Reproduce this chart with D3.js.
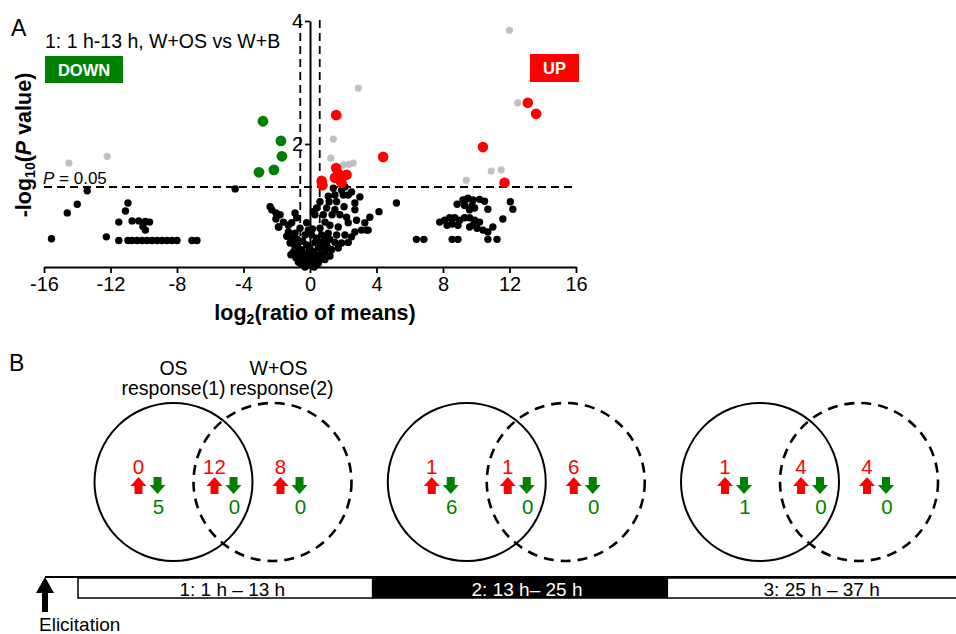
<!DOCTYPE html>
<html><head><meta charset="utf-8">
<script src="https://cdn.jsdelivr.net/npm/d3@7"></script>
<style>
body{margin:0;background:#fff}
svg{display:block}
text{font-family:"Liberation Sans",Arial,Helvetica,sans-serif;fill:#000}
</style>
</head><body>
<svg id="c" width="956" height="634"></svg>
<script>
// ---------- Panel A data ----------
const xTicks = [-16,-12,-8,-4,0,4,8,12,16];
const yTicks = [2,4];
const foldCut = [-0.585, 0.585];
const pCut = 0.05;
const panelTitle = "1: 1 h-13 h, W+OS vs W+B";

const downPoints = [[-2.83,2.37],[-1.75,2.05],[-1.69,1.80],[-3.07,1.54],[-2.17,1.58]];
const upPoints = [[1.57,2.47],[4.4,1.79],[1.57,1.61],[0.7,1.40],[0.75,1.33],[1.5,1.45],[1.8,1.42],[2.2,1.5],[1.9,1.37],[1.7,1.52],[13.1,2.67],[13.6,2.49],[10.4,1.95],[11.7,1.37]];
const grayPoints = [[-14.5,1.69],[-12.2,1.80],[12.0,3.85],[12.5,2.67],[10.9,1.56],[11.5,1.58],[9.4,1.41],[2.9,2.91],[1.75,2.45],[1.4,2.08],[1.25,1.77],[2.0,1.66],[2.35,1.67],[2.6,1.69]];
const blackPoints = [
 [-15.55,0.46],[-14.6,0.88],[-14.0,1.02],[-13.4,1.24],[-12.25,0.49],[-4.5,1.27],
 [-10.95,1.04],[-11.1,0.91],[-11.5,0.73],[-10.7,0.75],[-10.3,0.75],[-9.9,0.74],[-9.65,0.73],[-10.05,0.66],[-9.9,0.6],
 [-11.5,0.43],[-10.95,0.43],[-10.7,0.43],[-10.4,0.43],[-10.1,0.43],[-9.8,0.43],[-9.5,0.43],[-9.2,0.43],[-8.9,0.43],[-8.6,0.43],[-8.3,0.43],[-8.0,0.43],[-7.1,0.43],[-6.8,0.43],
 [-2.4,0.98],[-2.3,0.93],[-2.05,0.88],[-1.8,0.85],[-1.87,0.65],[-1.3,0.68],[-1.3,0.57],[-0.9,0.88],[-0.8,0.8],[-0.2,0.72],[-1.1,0.47],[-1.2,0.39],[-0.9,0.31],[-0.7,0.23],[-0.5,0.15],[-0.3,0.08],[-0.1,0.03],[0,0.06],[0.1,0.11],[0.3,0.19],[0.5,0.31],[0.7,0.4],[0.4,0.47],[0.7,0.52],[0.6,0.63],[0.4,0.96],[0.6,1.06],[1.1,1.15],[1.5,1.17],[1.15,1.06],[1.6,1.06],[2.0,1.17],[2.3,1.17],[2.5,1.22],[3.0,1.14],[2.7,1.04],[2.05,0.98],[1.5,0.93],[1.33,0.85],[1.8,0.85],[2.2,0.81],[2.7,0.93],[0.9,0.73],[1.2,0.68],[1.7,0.65],[2.3,0.72],[2.8,0.76],[3.3,0.72],[4.15,0.9],[5.2,1.04],[3.1,0.6],[3.5,0.6],[2.7,0.57],[2.5,0.49],[2.1,0.52],[1.6,0.52],[1.1,0.55],[1.0,0.4],[1.5,0.4],[1.9,0.39],[2.3,0.4],[1.3,0.28],[1.7,0.31],[0.9,0.24],[0.7,0.16],[0.4,0.11],[0.5,0.06],[0.3,0.03],[-0.5,0.28],[-0.8,0.36],[-1.0,0.24],[-0.7,0.08],[-0.3,0.0],[-0.2,0.36],[-0.3,0.52],[-0.6,0.63],[-0.9,0.55],[-1.6,0.73],[-1.1,0.72],[0.2,0.9],[0.3,0.85],[0.1,0.52],[0,0.31],[0.3,0.4],[0.8,0.85],[1.0,0.96],[1.4,1.28],[1.9,1.25],[2.1,1.3],[3.6,0.81],[3.4,0.6],
 [-0.6,0.18],[0.6,0.2],[-0.4,0.12],[0.45,0.14],[-0.15,0.15],[0.15,0.08],[0.2,0.25],[-0.2,0.22],[0.05,0.18],[-1.4,0.5],[0.9,0.48],[1.2,0.45],[-0.45,0.42],[0.15,0.62],[-0.1,0.6],[0.8,0.3],[1.05,0.32],[-0.75,0.45],[-1.0,0.4],[-2.05,0.78],[-1.9,0.65],
 [-0.55,0.05],[0.55,0.1],[-0.85,0.15],[0.9,0.12],[-1.15,0.2],[1.2,0.18],[0.25,0.0],[-0.05,0.28],
 [6.4,0.45],[6.85,0.45],[8.85,1.02],[9.2,1.09],[9.5,1.12],[9.8,1.09],[10.2,1.1],[10.5,1.07],[9.75,1.0],[9.6,0.93],[9.9,0.96],[10.7,0.94],[9.3,1.0],[9.4,1.1],[12.05,1.06],[12.2,0.94],[7.8,0.73],[8.1,0.76],[8.4,0.8],[8.7,0.8],[9.0,0.76],[9.3,0.8],[9.6,0.8],[9.9,0.76],[10.2,0.73],[8.55,0.7],[8.9,0.68],[8.25,0.68],[9.8,0.68],[9.6,0.65],[10.4,0.6],[10.7,0.57],[11.0,0.65],[11.6,0.78],[10.05,0.63],[8.55,0.45],[8.9,0.45],[10.7,0.45],[11.25,0.45]
];

// ---------- Panel B data ----------
const setLabels = [["OS","response(1)"],["W+OS","response(2)"]];
const periodLabels = ["1: 1 h \u2013 13 h","2: 13 h\u2013 25 h","3: 25 h \u2013 37 h"];
const periodBounds = [1,13,25,37];
const vennUp = [[0,12,8],[1,1,6],[1,4,4]];
const vennDown = [[5,0,0],[6,0,0],[1,0,0]];

const RED = "#ff0000", GREEN = "#008000", GRAY = "#c0c0c0";
const svg = d3.select("#c");
const fmt = v => String(v); // plain hyphen-minus like the original

// ---------- Panel A ----------
const x = d3.scaleLinear().domain([-16,16]).range([44,576]);
const y = d3.scaleLinear().domain([0,4]).range([267,21]);

svg.append("text").attr("x",11).attr("y",36).attr("font-size",23).text("A");
svg.append("text").attr("x",45).attr("y",48).attr("font-size",19.5).text(panelTitle);

// dashed threshold lines
const dash = svg.append("g").attr("stroke","#000").attr("stroke-width",1.8).attr("stroke-dasharray","8,5").attr("fill","none");
dash.append("line").attr("x1",x(-16)).attr("x2",x(16)).attr("y1",y(-Math.log10(pCut))).attr("y2",y(-Math.log10(pCut)));
foldCut.forEach(f=>dash.append("line").attr("x1",x(f)).attr("x2",x(f)).attr("y1",y(4)-1).attr("y2",y(0)));

// axes
const xAxis = svg.append("g").attr("transform",`translate(0,${y(0)})`)
  .call(d3.axisBottom(x).tickValues(xTicks).tickFormat(fmt).tickSizeOuter(0).tickSizeInner(6).tickPadding(4));
const yAxis = svg.append("g").attr("transform",`translate(${x(0)},0)`)
  .call(d3.axisLeft(y).tickValues(yTicks).tickFormat(fmt).tickSizeOuter(0).tickSizeInner(5).tickPadding(2));
[xAxis,yAxis].forEach(a=>{
  a.select(".domain").attr("stroke-width",2);
  a.selectAll(".tick line").attr("stroke-width",1.8);
  a.selectAll(".tick text").attr("font-size",20).attr("font-family","Liberation Sans, Arial, sans-serif").attr("fill","#000");
});

svg.append("text").attr("x",43).attr("y",184).attr("font-size",17)
  .call(t=>{t.append("tspan").attr("font-style","italic").text("P");t.append("tspan").text(" = 0.05");});

// points
const pts = svg.append("g");
pts.selectAll(".b").data(blackPoints).join("circle").attr("cx",d=>x(d[0])).attr("cy",d=>y(d[1])).attr("r",3.7).attr("fill","#000");
pts.selectAll(".g").data(grayPoints).join("circle").attr("cx",d=>x(d[0])).attr("cy",d=>y(d[1])).attr("r",3.6).attr("fill",GRAY);
pts.selectAll(".d").data(downPoints).join("circle").attr("cx",d=>x(d[0])).attr("cy",d=>y(d[1])).attr("r",5.4).attr("fill",GREEN);
pts.selectAll(".u").data(upPoints).join("circle").attr("cx",d=>x(d[0])).attr("cy",d=>y(d[1])).attr("r",5.3).attr("fill",RED);

// DOWN / UP boxes
svg.append("rect").attr("x",45).attr("y",56).attr("width",78).attr("height",27).attr("fill",GREEN);
svg.append("text").attr("x",84).attr("y",75.5).attr("text-anchor","middle").attr("font-size",16.5).attr("font-weight","bold").style("fill","#fff").text("DOWN");
svg.append("rect").attr("x",530).attr("y",54).attr("width",49).attr("height",28).attr("fill",RED);
svg.append("text").attr("x",554.5).attr("y",74).attr("text-anchor","middle").attr("font-size",16.5).attr("font-weight","bold").style("fill","#fff").text("UP");

// axis titles
svg.append("text").attr("x",315).attr("y",320).attr("text-anchor","middle").attr("font-size",21.5).attr("font-weight","bold")
  .call(t=>{t.append("tspan").text("log");t.append("tspan").attr("font-size",14).attr("dy",4).text("2");t.append("tspan").attr("dy",-4).text("(ratio of means)");});
svg.append("text").attr("transform","translate(31,145) rotate(-90)").attr("text-anchor","middle").attr("font-size",21.5).attr("font-weight","bold")
  .call(t=>{t.append("tspan").text("-log");t.append("tspan").attr("font-size",14).attr("dy",4).text("10");t.append("tspan").attr("dy",-4).text("(");
            t.append("tspan").attr("font-style","italic").text("P");t.append("tspan").text(" value)");});

// ---------- Panel B ----------
svg.append("text").attr("x",9).attr("y",371).attr("font-size",23).text("B");
const dx = d3.scaleLinear().domain([0,2]).range([173.5,760]);
const circleOffset = 99, R = 79, cy = 482;
const regionOffsets = [-25.5, 50.5, 116.5];

svg.append("text").attr("x",dx(0)).attr("y",375).attr("text-anchor","middle").attr("font-size",19.5).text(setLabels[0][0]);
svg.append("text").attr("x",dx(0)).attr("y",395).attr("text-anchor","middle").attr("font-size",19.5).text(setLabels[0][1]);
svg.append("text").attr("x",dx(0)+circleOffset+6).attr("y",375).attr("text-anchor","middle").attr("font-size",19.5).text(setLabels[1][0]);
svg.append("text").attr("x",dx(0)+circleOffset+9).attr("y",395).attr("text-anchor","middle").attr("font-size",19.5).text(setLabels[1][1]);

function upArrow(cx, top){
  return `M${cx},${top} L${cx+8},${top+9} L${cx+4},${top+9} L${cx+4},${top+17} L${cx-4},${top+17} L${cx-4},${top+9} L${cx-8},${top+9} Z`;
}
function downArrow(cx, top){
  return `M${cx-4},${top} L${cx+4},${top} L${cx+4},${top+8} L${cx+8},${top+8} L${cx},${top+17} L${cx-8},${top+8} L${cx-4},${top+8} Z`;
}

vennUp.forEach((ups,i)=>{
  const g = svg.append("g");
  const c0 = dx(i);
  g.append("circle").attr("cx",c0).attr("cy",cy).attr("r",R).attr("fill","none").attr("stroke","#000").attr("stroke-width",2);
  g.append("circle").attr("cx",c0+circleOffset).attr("cy",cy).attr("r",R).attr("fill","none").attr("stroke","#000").attr("stroke-width",2.6).attr("stroke-dasharray","10,7");
  ups.forEach((u,j)=>{
    const rx = c0 + regionOffsets[j];
    const ux = rx - 9.5, dxx = rx + 9.5;
    g.append("text").attr("x",ux).attr("y",474).attr("text-anchor","middle").attr("font-size",20.5).style("fill",RED).text(u);
    g.append("path").attr("d",upArrow(ux,477)).attr("fill",RED);
    g.append("path").attr("d",downArrow(dxx,477)).attr("fill",GREEN);
    g.append("text").attr("x",dxx+1).attr("y",514).attr("text-anchor","middle").attr("font-size",20.5).style("fill",GREEN).text(vennDown[i][j]);
  });
});

// ---------- Timeline ----------
const tx = d3.scaleLinear().domain([1,37]).range([78,962]);
svg.append("line").attr("x1",45).attr("x2",956).attr("y1",577).attr("y2",577).attr("stroke","#000").attr("stroke-width",2);
periodLabels.forEach((lab,i)=>{
  const dark = i===1;
  const x0 = tx(periodBounds[i]), x1 = tx(periodBounds[i+1]);
  svg.append("rect").attr("x",x0).attr("y",578).attr("width",x1-x0).attr("height",20)
    .attr("fill",dark?"#000":"#fff").attr("stroke","#000").attr("stroke-width",1.5);
  svg.append("text").attr("x",(x0+x1)/2+7).attr("y",596).attr("text-anchor","middle").attr("font-size",19)
    .style("fill",dark?"#fff":"#000").text(lab);
});
// elicitation arrow
svg.append("path").attr("d","M45,577 L54,593 L48,593 L48,612 L42,612 L42,593 L36,593 Z").attr("fill","#000");
svg.append("text").attr("x",39).attr("y",631).attr("font-size",19).text("Elicitation");
</script>
</body></html>
